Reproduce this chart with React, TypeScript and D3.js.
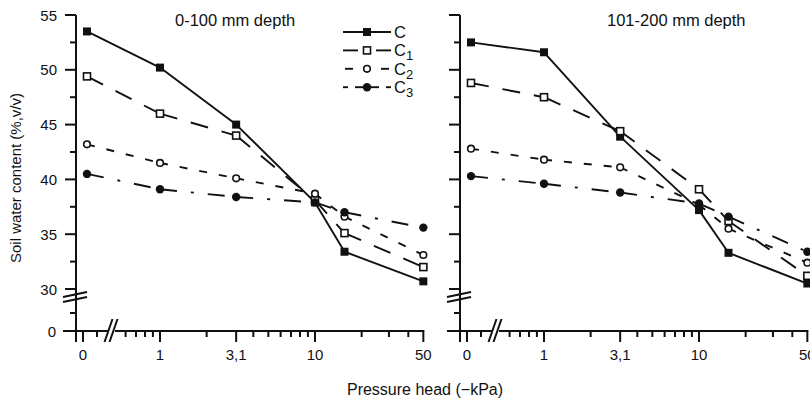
import React from "react";
import * as d3 from "d3";

// pressure head (-kPa); 0 sits left of the axis break
const pressure = [0, 1, 3.1, 10, 15.5, 50];

// soil water content (%, v/v), 0-100 mm depth
const topC = [53.5, 50.2, 45.0, 37.9, 33.4, 30.7];
const topC1 = [49.4, 46.0, 44.0, 38.1, 35.1, 32.0];
const topC2 = [43.2, 41.5, 40.1, 38.7, 36.6, 33.1];
const topC3 = [40.5, 39.1, 38.4, 37.9, 37.0, 35.6];

// 101-200 mm depth
const subC = [52.5, 51.6, 43.9, 37.2, 33.3, 30.5];
const subC1 = [48.8, 47.5, 44.4, 39.1, 36.2, 31.2];
const subC2 = [42.8, 41.8, 41.1, 37.7, 35.5, 32.4];
const subC3 = [40.3, 39.6, 38.8, 37.8, 36.6, 33.4];

const seriesNames = ["C", "C1", "C2", "C3"];
const yMajor = [30, 35, 40, 45, 50, 55];
const yMinor = [32.5, 37.5, 42.5, 47.5, 52.5];
const xMajor = [1, 3.1, 10, 50];
const xMinor = [0.6, 0.7, 0.8, 0.9, 2, 4, 5, 6, 7, 8, 9, 20, 30, 40];

const FONT = "'Liberation Sans', Arial, Helvetica, sans-serif";
const W = 810;
const H = 402;

// styles per series
const styles: Record<string, { dash: string | null; marker: string }> = {
  C: { dash: null, marker: "fsquare" },
  C1: { dash: "18 14", marker: "osquare" },
  C2: { dash: "8 12", marker: "ocircle" },
  C3: { dash: "17 14 3 14", marker: "fcircle" },
};

// legend line pieces (relative to legend start)
const legendPieces: Record<string, [number, number][]> = {
  C: [[0, 48]],
  C1: [[0, 15], [33, 48]],
  C2: [[2, 10], [38, 46]],
  C3: [[0, 5], [12, 36], [43, 48]],
};

const y = d3.scaleLinear().domain([30, 55]).range([289, 15]);
const yZero = 331;
const yBottom = 342;

function Marker({ kind, cx, cy }: { kind: string; cx: number; cy: number }) {
  if (kind === "fsquare")
    return <rect x={cx - 4} y={cy - 4} width={8} height={8} fill="#111" />;
  if (kind === "osquare")
    return (
      <rect x={cx - 3.5} y={cy - 3.5} width={7} height={7} fill="#fff" stroke="#111" strokeWidth={1.6} />
    );
  if (kind === "ocircle")
    return <circle cx={cx} cy={cy} r={3.3} fill="#fff" stroke="#111" strokeWidth={1.6} />;
  return <circle cx={cx} cy={cy} r={4.2} fill="#111" />;
}

function Panel({
  axisX,
  title,
  titleX,
  series,
  labels,
}: {
  axisX: number;
  title: string;
  titleX: number;
  series: number[][];
  labels: boolean;
}) {
  const x = d3
    .scaleLog()
    .domain([1, 50])
    .range([axisX + 84, axisX + 84 + 155 * Math.log10(50)]);
  const zeroTick = axisX + 7;
  const zeroPoint = axisX + 11;
  const px = (v: number) => (v === 0 ? zeroPoint : x(v));
  const breakX = axisX + 35;
  const breakY = 297;

  return (
    <g>
      {/* y axis */}
      <line x1={axisX} x2={axisX} y1={y(55)} y2={yBottom} stroke="#111" strokeWidth={2} />
      {yMajor.map((v) => (
        <line key={"ym" + v} x1={axisX - 11} x2={axisX} y1={y(v)} y2={y(v)} stroke="#111" strokeWidth={2} />
      ))}
      {yMinor.map((v) => (
        <line key={"yn" + v} x1={axisX - 6} x2={axisX} y1={y(v)} y2={y(v)} stroke="#111" strokeWidth={2} />
      ))}
      <line x1={axisX - 6} x2={axisX} y1={313} y2={313} stroke="#111" strokeWidth={2} />
      {labels &&
        yMajor.map((v) => (
          <text key={"yl" + v} x={axisX - 19} y={y(v) + 5.5} textAnchor="end" fontSize={15} fontFamily={FONT} fill="#111">
            {v}
          </text>
        ))}
      {labels && (
        <text x={axisX - 20} y={yZero + 5.5} textAnchor="end" fontSize={15} fontFamily={FONT} fill="#111">
          0
        </text>
      )}
      {/* y break */}
      {[-2.5, 2.5].map((o) => (
        <line
          key={"yb" + o}
          x1={axisX - 13}
          x2={axisX + 11}
          y1={breakY + o + 2.5}
          y2={breakY + o - 2.5}
          stroke="#111"
          strokeWidth={2}
        />
      ))}

      {/* x axis */}
      <line x1={axisX - 13} x2={x(50) + 1} y1={yZero} y2={yZero} stroke="#111" strokeWidth={2} />
      <line x1={zeroTick} x2={zeroTick} y1={yZero} y2={yZero + 11} stroke="#111" strokeWidth={2} />
      <line x1={axisX + 21} x2={axisX + 21} y1={yZero} y2={yZero + 6} stroke="#111" strokeWidth={2} />
      {xMajor.map((v) => (
        <line key={"xm" + v} x1={x(v)} x2={x(v)} y1={yZero} y2={yZero + 11} stroke="#111" strokeWidth={2} />
      ))}
      {xMinor.map((v) => (
        <line key={"xn" + v} x1={x(v)} x2={x(v)} y1={yZero} y2={yZero + 6} stroke="#111" strokeWidth={2} />
      ))}
      {[0, ...xMajor].map((v) => (
        <text
          key={"xl" + v}
          x={v === 0 ? zeroTick : x(v)}
          y={yZero + 29}
          textAnchor="middle"
          fontSize={15}
          fontFamily={FONT}
          fill="#111"
        >
          {v === 3.1 ? "3,1" : v}
        </text>
      ))}
      {/* x break */}
      <rect x={breakX - 2} y={yZero - 2} width={6} height={4} fill="#fff" />
      {[-2.5, 2.5].map((o) => (
        <line
          key={"xb" + o}
          x1={breakX + o - 4}
          x2={breakX + o + 4}
          y1={yZero + 11}
          y2={yZero - 12}
          stroke="#111"
          strokeWidth={2}
        />
      ))}

      {/* series */}
      {series.map((vals, si) => {
        const st = styles[seriesNames[si]];
        return (
          <g key={"s" + si}>
            {vals.slice(1).map((v, i) => (
              <line
                key={i}
                x1={px(pressure[i])}
                y1={y(vals[i])}
                x2={px(pressure[i + 1])}
                y2={y(v)}
                stroke="#111"
                strokeWidth={1.9}
                strokeDasharray={st.dash ?? undefined}
              />
            ))}
          </g>
        );
      })}
      {series.map((vals, si) => {
        const st = styles[seriesNames[si]];
        return (
          <g key={"m" + si}>
            {vals.map((v, i) => (
              <Marker key={i} kind={st.marker} cx={px(pressure[i])} cy={y(v)} />
            ))}
          </g>
        );
      })}

      <text x={titleX} y={26} fontSize={16.5} fontFamily={FONT} fill="#111">
        {title}
      </text>
    </g>
  );
}

function Legend({ lx, ly }: { lx: number; ly: number }) {
  return (
    <g>
      {seriesNames.map((name, i) => {
        const cy = ly + i * 18.4;
        return (
          <g key={name}>
            {legendPieces[name].map(([a, b], j) => (
              <line key={j} x1={lx + a} x2={lx + b} y1={cy} y2={cy} stroke="#111" strokeWidth={1.9} />
            ))}
            <Marker kind={styles[name].marker} cx={lx + 24} cy={cy} />
            <text x={lx + 51} y={cy + 6} fontSize={16.5} fontFamily={FONT} fill="#111">
              C
              {name.length > 1 && (
                <tspan fontSize={13} dy={4}>
                  {name.slice(1)}
                </tspan>
              )}
            </text>
          </g>
        );
      })}
    </g>
  );
}

export default function App() {
  return (
    <svg width={W} height={H} style={{ position: "absolute", left: 0, top: 0, background: "#fff" }}>
      <rect width={W} height={H} fill="#fff" />
      <Panel axisX={76} title="0-100 mm depth" titleX={175} series={[topC, topC1, topC2, topC3]} labels={true} />
      <Panel axisX={460} title="101-200 mm depth" titleX={607} series={[subC, subC1, subC2, subC3]} labels={false} />
      <Legend lx={343} ly={32} />
      <text
        transform="translate(21,178) rotate(-90)"
        textAnchor="middle"
        fontSize={15}
        fontFamily={FONT}
        fill="#111"
      >
        Soil water content (%,v/v)
      </text>
      <text x={425} y={395} textAnchor="middle" fontSize={16} fontFamily={FONT} fill="#111">
        Pressure head (−kPa)
      </text>
    </svg>
  );
}
